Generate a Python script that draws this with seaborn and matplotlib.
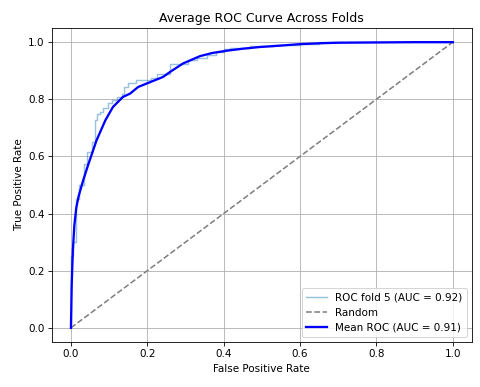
import matplotlib
matplotlib.use('Agg')
import matplotlib.pyplot as plt
import seaborn as sns

# ROC curve of fold 5 (step curve)
fold5_fpr = [0, 0, 0.005, 0.005, 0.012, 0.012, 0.02, 0.02, 0.035, 0.035, 0.042, 0.042,
             0.055, 0.055, 0.062, 0.062, 0.068, 0.068, 0.075, 0.075, 0.085, 0.085,
             0.097, 0.097, 0.107, 0.107, 0.12, 0.12, 0.134, 0.134, 0.138, 0.138,
             0.15, 0.15, 0.17, 0.17, 0.21, 0.21, 0.225, 0.225, 0.26, 0.26, 0.306, 0.306,
             0.33, 0.33, 0.356, 0.356, 0.38, 0.38, 0.4, 0.4, 0.416, 0.416, 0.47, 0.47,
             0.53, 0.53, 0.6, 0.6, 0.65, 0.65, 1.0]
fold5_tpr = [0, 0.25, 0.25, 0.3, 0.3, 0.45, 0.45, 0.5, 0.5, 0.575, 0.575, 0.615,
             0.615, 0.65, 0.65, 0.726, 0.726, 0.75, 0.75, 0.755, 0.755, 0.768,
             0.768, 0.786, 0.786, 0.796, 0.796, 0.808, 0.808, 0.82, 0.82, 0.843,
             0.843, 0.856, 0.856, 0.867, 0.867, 0.875, 0.875, 0.89, 0.89, 0.925, 0.925, 0.937,
             0.937, 0.945, 0.945, 0.954, 0.954, 0.965, 0.965, 0.975, 0.975, 0.98, 0.98, 0.985,
             0.985, 0.99, 0.99, 0.995, 0.995, 1.0, 1.0]
fold5_auc = 0.92

# mean ROC across folds
mean_fpr = [0, 0.002, 0.005, 0.009, 0.014, 0.02, 0.032, 0.045, 0.067, 0.09, 0.11,
            0.136, 0.155, 0.176, 0.198, 0.241, 0.26, 0.293, 0.338,
            0.37, 0.408, 0.45, 0.495, 0.55, 0.6, 0.65, 0.7, 0.8, 0.9, 1.0]
mean_tpr = [0, 0.15, 0.27, 0.36, 0.42, 0.46, 0.516, 0.57, 0.656, 0.726, 0.773,
            0.808, 0.82, 0.843, 0.855, 0.878, 0.896, 0.925, 0.951,
            0.962, 0.97, 0.977, 0.983, 0.988, 0.993, 0.996, 0.998, 0.999, 1.0, 1.0]
mean_auc = 0.91

chance = [0, 1]

fig, ax = plt.subplots(figsize=(6.4, 5.16), dpi=75)
plt.subplots_adjust(left=0.108, right=0.983, top=0.928, bottom=0.116)

sns.lineplot(x=fold5_fpr, y=fold5_tpr, estimator=None, sort=False, ax=ax,
             color='C0', alpha=0.45, lw=1.4, label=f'ROC fold 5 (AUC = {fold5_auc:.2f})')
sns.lineplot(x=chance, y=chance, estimator=None, sort=False, ax=ax,
             color='gray', linestyle='--', lw=1.5, label='Random')
sns.lineplot(x=mean_fpr, y=mean_tpr, estimator=None, sort=False, ax=ax,
             color='blue', lw=2.2, label=f'Mean ROC (AUC = {mean_auc:.2f})')

ax.set_xlabel('False Positive Rate')
ax.set_ylabel('True Positive Rate')
ax.set_title('Average ROC Curve Across Folds')
ax.legend(loc='lower right')
ax.grid(True)

plt.savefig('out.png', dpi=75)
